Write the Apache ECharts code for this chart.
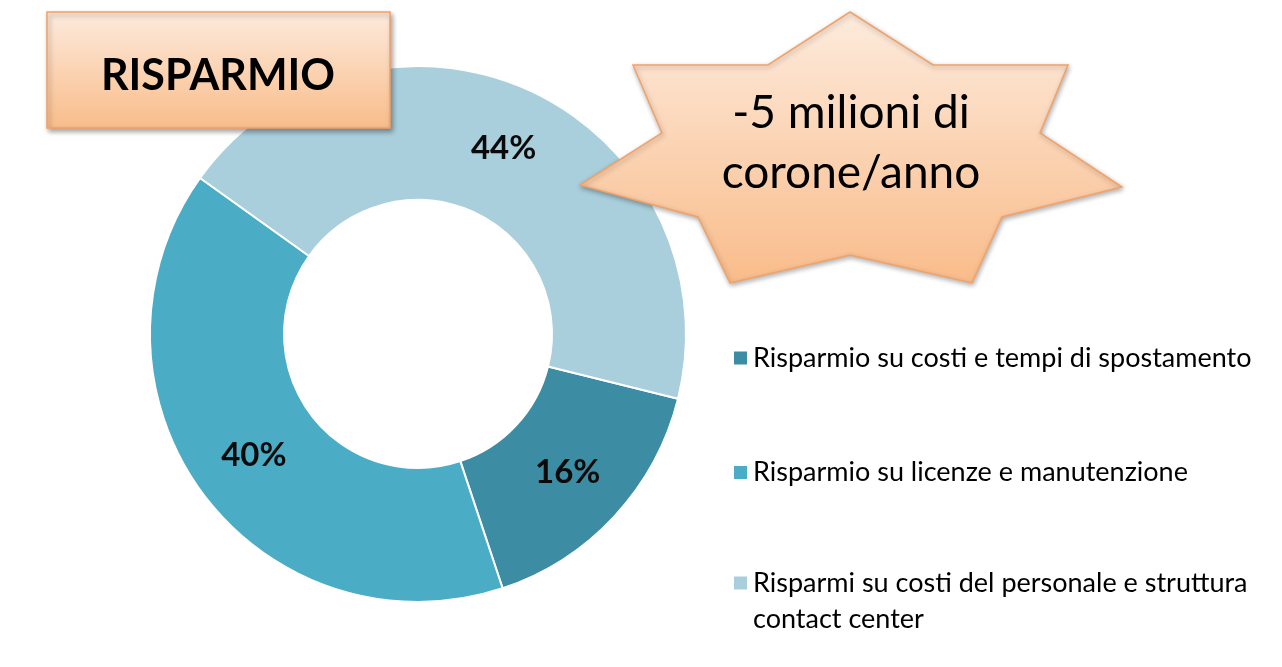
<!DOCTYPE html>
<html>
<head>
<meta charset="utf-8">
<script src="https://cdn.jsdelivr.net/npm/echarts@6/dist/echarts.min.js"></script>
<style>
html,body{margin:0;padding:0;background:#fff;}
#chart{width:1282px;height:667px;}
</style>
</head>
<body>
<div id="chart"></div>
<script>
// ---- data ----
const categories = [
  'Risparmio su costi e tempi di spostamento',
  'Risparmio su licenze e manutenzione',
  'Risparmi su costi del personale e struttura contact center'
];
const values = [16, 40, 44];
const sliceColors = ['#3C8CA4', '#4BACC6', '#A9CEDC'];
const titleText = 'RISPARMIO';
const starLines = ['-5 milioni di', 'corone/anno'];

const FONT = 'Lato, "Open Sans", sans-serif';
const chart = echarts.init(document.getElementById('chart'), null, {renderer: 'canvas'});

const starPts = [[850,12],[933,65],[1068,65],[1040,133],[1122,187],[1002,217],[972,283],[850,255],[730,283],[698,217],[580,185],[662,133],[633,65],[768,65]];

const peach = {type:'linear', x:0, y:0, x2:0, y2:1, colorStops:[{offset:0,color:'#FDEBDD'},{offset:1,color:'#F9BC8A'}]};
const peach2 = {type:'linear', x:0, y:0, x2:0, y2:1, colorStops:[{offset:0,color:'#FDEBDD'},{offset:1,color:'#F9BC8A'}]};

const legendTops = [335, 449.5, 524];
const legends = categories.map((name, i) => ({
  data: [name],
  orient: 'vertical',
  left: 727,
  top: legendTops[i],
  itemWidth: 15,
  itemHeight: 15,
  selectedMode: false,
  icon: 'rect',
  formatter: (n) => n === categories[2] ? '\nRisparmi su costi del personale e struttura\ncontact center' : n,
  textStyle: {
    fontFamily: FONT,
    fontSize: 27,
    color: '#000',
    lineHeight: 36
  }
}));

const option = {
  animation: false,
  legend: legends,
  series: [{
    type: 'pie',
    center: [418, 334],
    radius: [134, 268],
    startAngle: -14,
    clockwise: true,
    avoidLabelOverlap: false,
    emphasis: {disabled: true},
    itemStyle: {borderColor: '#fff', borderWidth: 2},
    label: {
      show: true,
      position: 'inside',
      formatter: (p) => Math.round(p.percent) + '%',
      fontFamily: FONT,
      fontWeight: 'bold',
      fontSize: 33,
      color: '#0a0a0a'
    },
    labelLine: {show: false},
    data: categories.map((name, i) => ({name, value: values[i], itemStyle: {color: sliceColors[i]}}))
  }],
  graphic: [
    {
      type: 'rect', z: 100,
      shape: {x: 47, y: 12, width: 343, height: 116},
      style: {fill: peach, stroke: '#F5A064', lineWidth: 1.5,
        shadowBlur: 5, shadowOffsetX: 2, shadowOffsetY: 3, shadowColor: 'rgba(0,0,0,0.35)'}
    },
    {
      type: 'text', z: 101,
      x: 218, y: 76,
      style: {text: titleText, font: 'bold 43px ' + FONT, fill: '#000', align: 'center', verticalAlign: 'middle'}
    },
    {
      type: 'polygon', z: 100,
      shape: {points: starPts},
      style: {fill: peach2, stroke: '#F2A268', lineWidth: 1.5,
        shadowBlur: 5, shadowOffsetX: 1, shadowOffsetY: 2, shadowColor: 'rgba(0,0,0,0.3)'}
    },
    {
      type: 'text', z: 101,
      x: 851, y: 113,
      style: {text: starLines[0], font: '46px ' + FONT, fill: '#000', align: 'center', verticalAlign: 'middle'}
    },
    {
      type: 'text', z: 101,
      x: 851, y: 173,
      style: {text: starLines[1], font: '46px ' + FONT, fill: '#000', align: 'center', verticalAlign: 'middle'}
    }
  ]
};
chart.setOption(option);
</script>
</body>
</html>
